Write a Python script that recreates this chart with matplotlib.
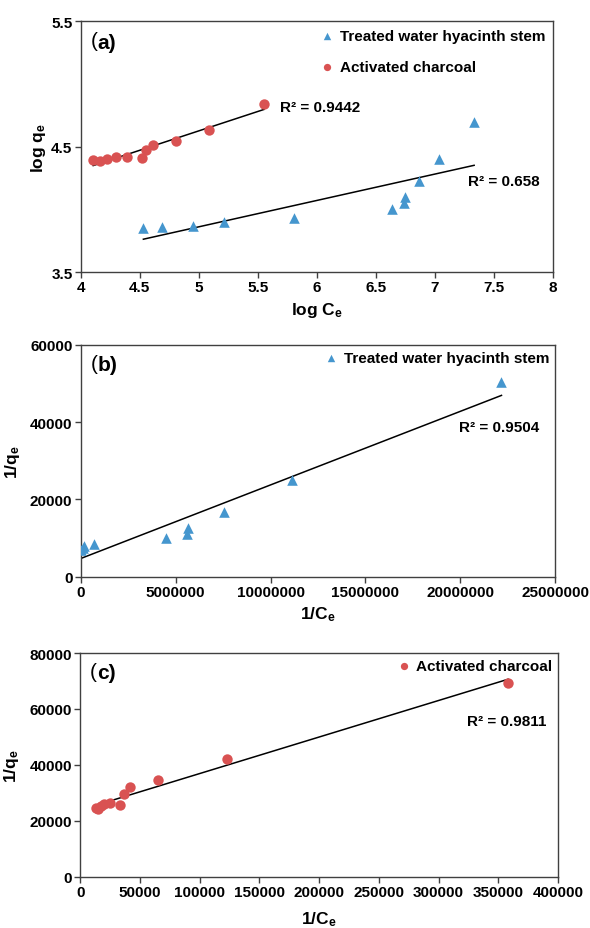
import numpy as np
import matplotlib
matplotlib.use("Agg")
import matplotlib.pyplot as plt

plt.rcParams["font.family"] = ["Liberation Sans", "DejaVu Sans"]
plt.rcParams["font.weight"] = "bold"
plt.rcParams["mathtext.fontset"] = "custom"
plt.rcParams["mathtext.rm"] = "Liberation Sans"
plt.rcParams["mathtext.bf"] = "Liberation Sans:bold"
plt.rcParams["mathtext.it"] = "Liberation Sans:bold"

BLUE = "#4596CE"
RED = "#D95252"
SPINE = "#404040"

# ---- (a) Freundlich: log qe vs log Ce ----
a_stem_x = [4.530, 4.686, 4.949, 5.216, 5.806, 6.638, 6.740, 6.743, 6.867, 7.038, 7.333]
a_stem_y = [3.854, 3.862, 3.864, 3.896, 3.935, 4.007, 4.050, 4.100, 4.229, 4.403, 4.701]
a_char_x = [4.105, 4.162, 4.225, 4.302, 4.390, 4.517, 4.556, 4.613, 4.810, 5.089, 5.552]
a_char_y = [4.392, 4.389, 4.400, 4.418, 4.421, 4.413, 4.477, 4.514, 4.545, 4.630, 4.844]

# ---- (b) Langmuir, treated water hyacinth stem ----
b_x = [0.02e6, 0.10e6, 0.18e6, 0.70e6, 4.47e6, 5.61e6, 5.67e6, 7.52e6, 11.13e6, 22.17e6]
b_y = [7000, 7400, 7900, 8500, 10100, 11000, 12600, 16850, 25100, 50400]

# ---- (c) Langmuir, activated charcoal ----
c_x = [12900, 15100, 17640, 19840, 24570, 33390, 36220, 41570, 64880, 123150, 358110]
c_y = [24460, 24230, 25160, 25970, 26320, 25740, 29800, 32230, 34670, 42200, 69450]

r2_a = ["R² = 0.9442", "R² = 0.658"]
r2_b = "R² = 0.9504"
r2_c = "R² = 0.9811"

fig = plt.figure(figsize=(5.9, 9.29), dpi=100)
ax_a = fig.add_axes([0.137, 0.706, 0.800, 0.270])
ax_b = fig.add_axes([0.137, 0.378, 0.804, 0.250])
ax_c = fig.add_axes([0.136, 0.055, 0.810, 0.241])


def style(ax):
    for s in ax.spines.values():
        s.set_color(SPINE)
        s.set_linewidth(1.0)
    ax.tick_params(direction="out", length=4, width=1, color=SPINE,
                   labelsize=11, pad=2)
    for lab in ax.get_xticklabels() + ax.get_yticklabels():
        lab.set_fontweight("bold")


def trend(ax, x, y):
    x = np.asarray(x, float)
    k, b = np.polyfit(x, y, 1)
    xs = np.array([x.min(), x.max()])
    ax.plot(xs, k * xs + b, color="black", lw=1.1, zorder=2)


def panel_label(ax, letter):
    ax.text(0.02, 0.96, "(", transform=ax.transAxes, fontsize=15,
            fontweight="normal", va="top", ha="left")
    ax.text(0.036, 0.955, letter + ")", transform=ax.transAxes, fontsize=15,
            fontweight="bold", va="top", ha="left")


# panel a
ax_a.scatter(a_stem_x, a_stem_y, marker="^", s=58, color=BLUE, zorder=3,
             label="Treated water hyacinth stem", linewidths=0)
ax_a.scatter(a_char_x, a_char_y, marker="o", s=56, color=RED, zorder=3,
             label="Activated charcoal", linewidths=0)
trend(ax_a, a_char_x, a_char_y)
trend(ax_a, a_stem_x, a_stem_y)
ax_a.set_xlim(4, 8)
ax_a.set_ylim(3.5, 5.5)
ax_a.set_xticks(np.arange(4, 8.01, 0.5))
ax_a.set_xticklabels(["4", "4.5", "5", "5.5", "6", "6.5", "7", "7.5", "8"])
ax_a.set_yticks([3.5, 4.5, 5.5])
ax_a.set_xlabel(r"log C$_\mathregular{e}$", fontsize=12.5, fontweight="bold", labelpad=4)
ax_a.set_ylabel(r"log q$_\mathregular{e}$", fontsize=12.5, fontweight="bold", labelpad=2)
ax_a.text(5.686, 4.815, r2_a[0], fontsize=11, fontweight="bold", va="center")
ax_a.text(7.28, 4.225, r2_a[1], fontsize=11, fontweight="bold", va="center")
panel_label(ax_a, "a")
ax_a.legend(loc="upper right", frameon=False, handlelength=0.8,
            handletextpad=0.4, labelspacing=1.1, borderaxespad=0.2,
            borderpad=0.3, markerscale=0.7, prop={"weight": "bold", "size": 11})
style(ax_a)

# panel b
ax_b.scatter(b_x, b_y, marker="^", s=58, color=BLUE, zorder=3,
             label="Treated water hyacinth stem", linewidths=0)
trend(ax_b, b_x, b_y)
ax_b.set_xlim(0, 25000000)
ax_b.set_ylim(0, 60000)
ax_b.set_xticks(np.arange(0, 25000001, 5000000))
ax_b.set_xticklabels(["0", "5000000", "10000000", "15000000", "20000000", "25000000"])
ax_b.set_yticks(np.arange(0, 60001, 20000))
ax_b.set_yticklabels(["0", "20000", "40000", "60000"])
ax_b.set_xlabel(r"1/C$_\mathregular{e}$", fontsize=12.5, fontweight="bold", labelpad=4)
ax_b.set_ylabel(r"1/q$_\mathregular{e}$", fontsize=12.5, fontweight="bold", labelpad=6)
ax_b.text(19.94e6, 38800, r2_b, fontsize=11, fontweight="bold", va="center")
panel_label(ax_b, "b")
ax_b.legend(loc="upper right", frameon=False, handlelength=0.8,
            handletextpad=0.4, borderaxespad=0.2, borderpad=0.2,
            markerscale=0.7, prop={"weight": "bold", "size": 11})
style(ax_b)

# panel c
ax_c.scatter(c_x, c_y, marker="o", s=56, color=RED, zorder=3,
             label="Activated charcoal", linewidths=0)
trend(ax_c, c_x, c_y)
ax_c.set_xlim(0, 400000)
ax_c.set_ylim(0, 80000)
ax_c.set_xticks(np.arange(0, 400001, 50000))
ax_c.set_xticklabels(["0", "50000", "100000", "150000", "200000", "250000",
                      "300000", "350000", "400000"])
ax_c.set_yticks(np.arange(0, 80001, 20000))
ax_c.set_yticklabels(["0", "20000", "40000", "60000", "80000"])
ax_c.set_xlabel(r"1/C$_\mathregular{e}$", fontsize=12.5, fontweight="bold", labelpad=7)
ax_c.set_ylabel(r"1/q$_\mathregular{e}$", fontsize=12.5, fontweight="bold", labelpad=6)
ax_c.text(323800, 55700, r2_c, fontsize=11, fontweight="bold", va="center")
panel_label(ax_c, "c")
ax_c.legend(loc="upper right", frameon=False, handlelength=0.8,
            handletextpad=0.4, borderaxespad=0.2, borderpad=0.2,
            markerscale=0.7, prop={"weight": "bold", "size": 11})
style(ax_c)

fig.savefig("out.png", dpi=100)
